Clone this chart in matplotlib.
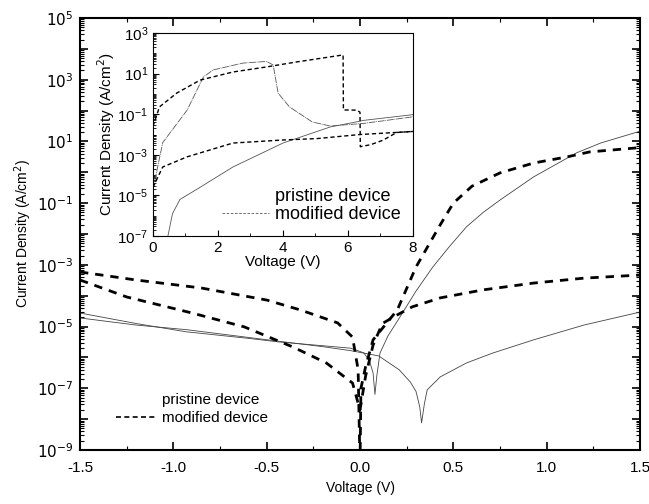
import numpy as np
import matplotlib.pyplot as plt
from matplotlib.lines import Line2D
from matplotlib.ticker import LogLocator, MultipleLocator, NullFormatter

plt.rcParams['font.family'] = ['Liberation Sans', 'DejaVu Sans']

# ---- main panel data (voltage V, log10 of current density) ----
pris1_v = [-1.5, -1.2, -0.93, -0.6, -0.43, -0.2, -0.05, 0.02, 0.05, 0.07, 0.08, 0.09, 0.107, 0.15, 0.214, 0.3, 0.39, 0.48, 0.57, 0.66, 0.75, 0.93, 1.16, 1.29, 1.5]
pris1_j = [-4.56, -4.9, -5.17, -5.38, -5.5, -5.62, -5.7, -5.85, -6.1, -6.5, -7.2, -6.6, -5.86, -5.3, -4.69, -3.85, -3.07, -2.4, -1.77, -1.3, -0.9, -0.15, 0.63, 0.95, 1.33]

pris2_v = [-1.5, -1.2, -0.93, -0.6, -0.43, -0.2, -0.05, 0.1, 0.21, 0.27, 0.3, 0.32, 0.33, 0.345, 0.36, 0.43, 0.57, 0.71, 0.93, 1.2, 1.5]
pris2_j = [-4.72, -4.95, -5.1, -5.35, -5.48, -5.65, -5.78, -5.95, -6.4, -6.8, -7.1, -7.6, -8.12, -7.5, -7.05, -6.63, -6.18, -5.86, -5.43, -4.95, -4.53]

mod1_v = [-1.5, -1.2, -0.85, -0.5, -0.32, -0.12, -0.04, -0.01, 0.0, 0.005, 0.03, 0.07, 0.2, 0.3, 0.43, 0.5, 0.6, 0.75, 0.93, 1.11, 1.23, 1.5]
mod1_j = [-3.23, -3.49, -3.75, -4.14, -4.46, -4.88, -5.34, -6.4, -9.5, -7.0, -6.3, -5.43, -4.46, -3.07, -1.7, -1.0, -0.45, -0.02, 0.3, 0.5, 0.66, 0.8]

mod2_v = [-1.5, -1.25, -0.9, -0.62, -0.36, -0.18, -0.04, 0.0, 0.03, 0.07, 0.12, 0.2, 0.28, 0.43, 0.66, 0.93, 1.2, 1.5]
mod2_j = [-3.49, -4.04, -4.56, -5.01, -5.66, -6.18, -6.83, -7.7, -6.6, -5.6, -4.9, -4.62, -4.36, -4.07, -3.81, -3.59, -3.43, -3.33]

# ---- inset data ----
ins_p1_v = [0.46, 0.6, 0.83, 1.45, 2.46, 4.0, 5.45, 6.5, 7.9, 8.0]
ins_p1_j = [-7.0, -5.9, -5.2, -4.6, -3.6, -2.42, -1.63, -1.3, -1.04, -1.02]

ins_p2_v = [0.0, 0.3, 1.05, 1.55, 1.85, 2.77, 3.5, 3.7, 3.85, 4.2, 4.9, 5.45, 6.5, 7.9, 8.0]
ins_p2_j = [-4.7, -2.4, -0.8, 0.83, 1.18, 1.52, 1.6, 1.42, 0.04, -0.64, -1.38, -1.58, -1.45, -1.15, -1.12]

ins_m1_v = [0.0, 0.2, 0.73, 1.45, 2.46, 3.5, 4.4, 5.85, 5.86, 6.27, 6.37, 6.38, 6.7, 7.08, 7.5, 8.0]
ins_m1_j = [-1.6, -0.64, 0.04, 0.68, 1.08, 1.33, 1.57, 1.92, -0.79, -0.8, -0.9, -2.6, -2.5, -2.28, -1.9, -1.85]

ins_m2_v = [0.0, 0.3, 1.05, 2.46, 4.0, 5.05, 6.37, 8.0]
ins_m2_j = [-4.6, -3.6, -3.1, -2.42, -2.27, -2.2, -2.0, -1.85]

labels = ['pristine device', 'modified device']

fig = plt.figure(figsize=(6.49, 5.04), dpi=100)
ax = fig.add_axes([0.1233, 0.1071, 0.8628, 0.8572])

ax.plot(pris1_v, 10.0 ** np.array(pris1_j), color='#444444', lw=0.6)
ax.plot(pris2_v, 10.0 ** np.array(pris2_j), color='#444444', lw=0.6)
ax.plot(mod1_v, 10.0 ** np.array(mod1_j), color='black', lw=2.0, ls=(0, (3, 2.5)))
ax.plot(mod2_v, 10.0 ** np.array(mod2_j), color='black', lw=2.0, ls=(0, (3, 2.5)))

ax.set_yscale('log')
ax.set_xlim(-1.5, 1.5)
ax.set_ylim(1e-9, 1e5)
ax.set_xticks([-1.5, -1.0, -0.5, 0.0, 0.5, 1.0, 1.5])
ax.set_xticklabels(['-1.5', '-1.0', '-0.5', '0.0', '0.5', '1.0', '1.5'])
ax.xaxis.set_minor_locator(MultipleLocator(0.25))
ax.set_yticks([10.0 ** k for k in range(-9, 6)])
ax.set_yticklabels(['$10^{%d}$' % k if k % 2 else '' for k in range(-9, 6)])
ax.yaxis.set_minor_locator(LogLocator(base=10, subs=np.arange(2, 10), numticks=30))
ax.yaxis.set_minor_formatter(NullFormatter())
ax.tick_params(which='both', direction='in', top=True, right=True, labelsize=11)
ax.tick_params(which='major', length=6, width=1.2)
ax.tick_params(axis='x', which='major', pad=8)
ax.tick_params(axis='y', which='major', pad=5)
ax.tick_params(which='minor', length=3, width=0.8)
for s in ax.spines.values():
    s.set_linewidth(1.5)
ax.set_xlabel('Voltage (V)', fontsize=10, labelpad=4)
ax.set_ylabel('Current Density (A/cm$^2$)', fontsize=10, labelpad=2)

main_handles = [Line2D([], [], color='none'),
                Line2D([], [], color='black', lw=1.2, ls=(0, (3, 2)))]
ax.legend(main_handles, labels, loc='lower left', bbox_to_anchor=(0.04, 0.025), frameon=False,
          fontsize=11, handlelength=2.6, handletextpad=0.4, labelspacing=0.3)

# ---- inset ----
ins = fig.add_axes([0.2357, 0.5317, 0.4006, 0.4028])
ins.plot(ins_p1_v, 10.0 ** np.array(ins_p1_j), color='#555555', lw=0.6)
ins.plot(ins_p2_v, 10.0 ** np.array(ins_p2_j), color='#555555', lw=0.6, ls=(0, (8, 1, 1, 1)))
ins.plot(ins_m1_v, 10.0 ** np.array(ins_m1_j), color='black', lw=1.0, ls=(0, (3, 2)))
ins.plot(ins_m2_v, 10.0 ** np.array(ins_m2_j), color='black', lw=1.0, ls=(0, (3, 2)))
ins.set_yscale('log')
ins.set_xlim(0, 8)
ins.set_ylim(1e-7, 1e3)
ins.set_xticks([0, 2, 4, 6, 8])
ins.xaxis.set_minor_locator(MultipleLocator(1))
ins.set_yticks([10.0 ** k for k in range(-7, 4, 2)])
ins.yaxis.set_minor_locator(LogLocator(base=10, subs=np.arange(1, 10), numticks=30))
ins.yaxis.set_minor_formatter(NullFormatter())
ins.tick_params(which='both', direction='in', labelsize=11)
ins.tick_params(which='major', length=4)
ins.tick_params(which='minor', length=2)
ins.set_xlabel('Voltage (V)', fontsize=11, labelpad=0)
ins.set_ylabel('Current Density (A/cm$^2$)', fontsize=11, labelpad=0)

ins_handles = [Line2D([], [], color='none'),
               Line2D([], [], color='#555555', lw=0.6, ls=(0, (3, 2)))]
ins.legend(ins_handles, labels, loc='lower right', frameon=False, fontsize=13, handlelength=2.6,
           handletextpad=0.3, labelspacing=0.1, borderaxespad=0.3)

fig.savefig('out.png', dpi=100)
